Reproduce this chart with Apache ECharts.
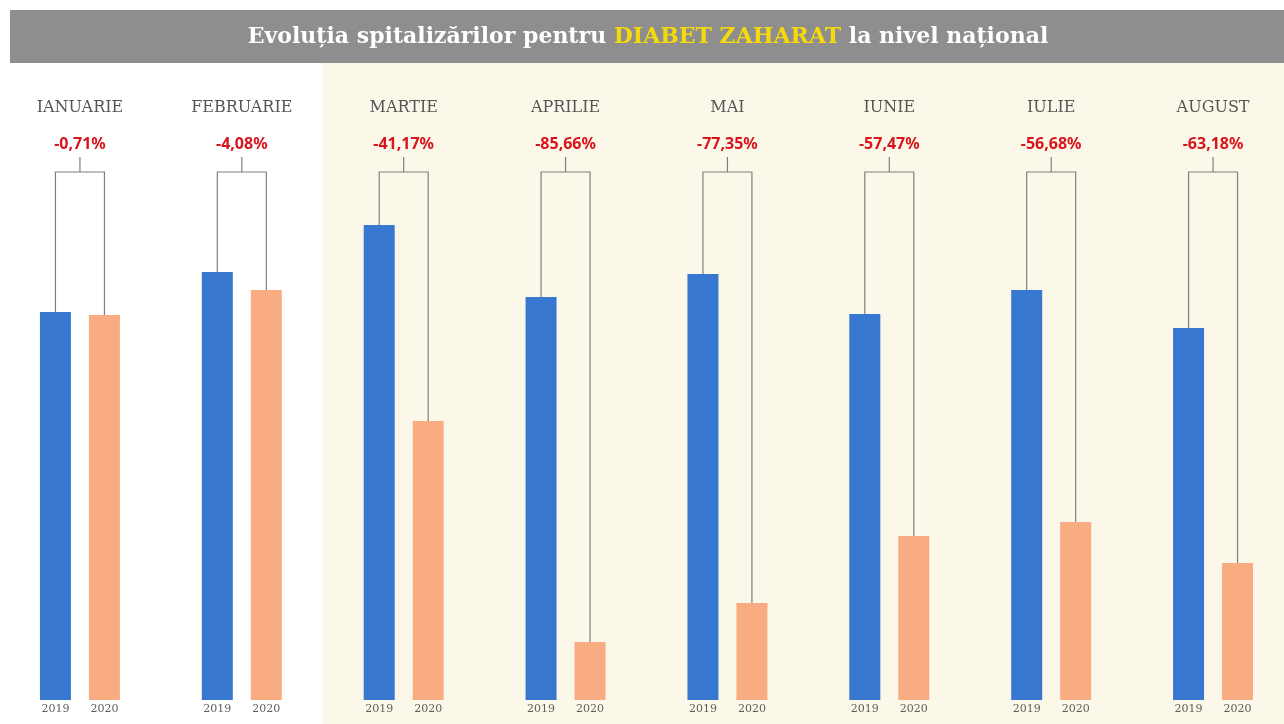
<!DOCTYPE html>
<html lang="ro">
<head>
    <meta charset="UTF-8">
    <title>Diabet zaharat</title>
    <style>
        html, body { margin: 0; padding: 0; background: #ffffff; }
        #chart { width: 1284px; height: 724px; }
    </style>
</head>
<body>
<div id="chart"></div>
<script src="https://cdn.jsdelivr.net/npm/echarts@6/dist/echarts.min.js"></script>
<script type="text/javascript">

    // luni si valori (unitati relative)
    var months = ['IANUARIE', 'FEBRUARIE', 'MARTIE', 'APRILIE', 'MAI', 'IUNIE', 'IULIE', 'AUGUST'];
    var values2019 = [388, 428, 475, 403, 426, 386, 410, 372];
    var values2020 = [385, 410, 279, 58, 97, 164, 178, 137];
    var changes = ['-0,71%', '-4,08%', '-41,17%', '-85,66%', '-77,35%', '-57,47%', '-56,68%', '-63,18%'];

    var bracketData = [];
    for (var i = 0; i < months.length; i++) {
        bracketData.push([i, values2019[i], values2020[i]]);
    }

    var myChart = echarts.init(document.getElementById('chart'));

    var option = {
        backgroundColor: '#ffffff',
        animation: false,
        graphic: [
            {
                type: 'rect', z: -10, silent: true,
                shape: { x: 322, y: 63, width: 962, height: 661 },
                style: { fill: '#fcf8e9' }
            },
            {
                type: 'rect', z: -10, silent: true,
                shape: { x: 10, y: 10, width: 1274, height: 53 },
                style: { fill: '#8e8e8e' }
            }
        ],
        title: {
            text: 'Evoluția spitalizărilor pentru {y|DIABET ZAHARAT} la nivel național',
            left: 643,
            textAlign: 'center',
            top: 21,
            textStyle: {
                fontFamily: 'DejaVu Serif',
                fontSize: 22,
                fontWeight: 'bold',
                color: '#ffffff',
                rich: {
                    y: {
                        fontFamily: 'DejaVu Serif',
                        fontSize: 22,
                        fontWeight: 'bold',
                        color: '#f5d90a'
                    }
                }
            }
        },
        grid: {
            left: -1,
            width: 1295,
            top: 172,
            bottom: 24,
            outerBoundsMode: 'none',
            containLabel: false
        },
        xAxis: {
            type: 'category',
            position: 'top',
            data: months,
            axisLine: { show: false },
            axisTick: { show: false },
            axisLabel: {
                margin: 56,
                fontFamily: 'DejaVu Serif',
                fontSize: 16,
                color: '#555555'
            }
        },
        yAxis: {
            type: 'value',
            min: 0,
            max: 528,
            show: false,
            splitLine: { show: false }
        },
        series: [
            {
                name: '2019',
                type: 'bar',
                barWidth: 31,
                barGap: '58%',
                data: values2019,
                itemStyle: { color: '#3877cf' },
                label: {
                    show: true,
                    position: 'bottom',
                    distance: 4,
                    formatter: '2019',
                    fontFamily: 'DejaVu Serif',
                    fontSize: 11,
                    color: '#5e5e5e'
                }
            },
            {
                name: '2020',
                type: 'bar',
                barWidth: 31,
                data: values2020,
                itemStyle: { color: '#f9ac81' },
                label: {
                    show: true,
                    position: 'bottom',
                    distance: 4,
                    formatter: '2020',
                    fontFamily: 'DejaVu Serif',
                    fontSize: 11,
                    color: '#5e5e5e'
                }
            },
            {
                name: 'bracket',
                type: 'custom',
                silent: true,
                encode: { x: 0, y: [1, 2] },
                data: bracketData,
                renderItem: function (params, api) {
                    var idx = api.value(0);
                    var cx = api.coord([idx, 0])[0];
                    var top1 = api.coord([idx, api.value(1)])[1];
                    var top2 = api.coord([idx, api.value(2)])[1];
                    var yb = params.coordSys.y;
                    var off = 24.5;
                    var lineStyle = { stroke: '#7f7f7f', lineWidth: 1.2, fill: null };
                    return {
                        type: 'group',
                        children: [
                            {
                                type: 'polyline',
                                shape: { points: [[cx - off, top1], [cx - off, yb], [cx + off, yb], [cx + off, top2]] },
                                style: lineStyle
                            },
                            {
                                type: 'line',
                                shape: { x1: cx, y1: yb - 15, x2: cx, y2: yb },
                                style: lineStyle
                            },
                            {
                                type: 'text',
                                style: {
                                    text: changes[idx],
                                    x: cx,
                                    y: yb - 28,
                                    align: 'center',
                                    verticalAlign: 'middle',
                                    fontFamily: 'Noto Sans',
                                    fontWeight: 'bold',
                                    fontSize: 16,
                                    fill: '#d8141c'
                                }
                            }
                        ]
                    };
                }
            }
        ]
    };

    myChart.setOption(option);

</script>
</body>
</html>
